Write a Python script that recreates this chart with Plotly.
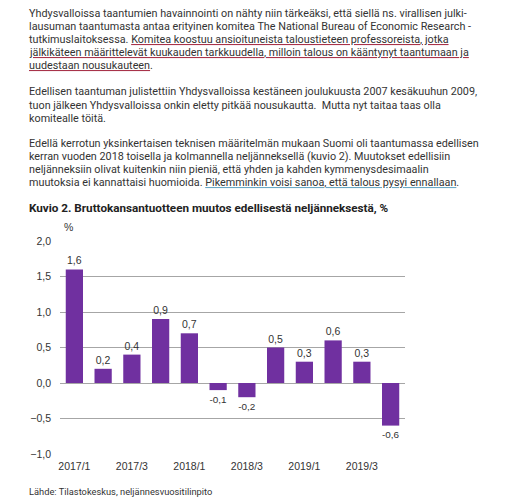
import plotly.graph_objects as go

# ---- data ----
quarters = ["2017/1", "2017/2", "2017/3", "2017/4",
            "2018/1", "2018/2", "2018/3", "2018/4",
            "2019/1", "2019/2", "2019/3", "2019/4"]
gdp_change = [1.6, 0.2, 0.4, 0.9, 0.7, -0.1, -0.2, 0.5, 0.3, 0.6, 0.3, -0.6]
tick_labels = ["2017/1", "2017/3", "2018/1", "2018/3", "2019/1", "2019/3"]
y_ticks = [-1.0, -0.5, 0.0, 0.5, 1.0, 1.5, 2.0]

# text lines: (plain part before underline, underlined part, plain part after)
para1 = [
    ("Yhdysvalloissa taantumien havainnointi on nähty niin tärkeäksi, että siellä ns. virallisen julki-", "", ""),
    ("lausuman taantumasta antaa erityinen komitea The National Bureau of Economic Research -", "", ""),
    ("tutkimuslaitoksessa. ", "Komitea koostuu ansioituneista taloustieteen professoreista, jotka", ""),
    ("", "jälkikäteen määrittelevät kuukauden tarkkuudella, milloin talous on kääntynyt taantumaan ja", ""),
    ("", "uudestaan nousukauteen", "."),
]
para2 = [
    ("Edellisen taantuman julistettiin Yhdysvalloissa kestäneen joulukuusta 2007 kesäkuuhun 2009,", "", ""),
    ("tuon jälkeen Yhdysvalloissa onkin eletty pitkää nousukautta.  Mutta nyt taitaa taas olla", "", ""),
    ("komitealle töitä.", "", ""),
]
para3 = [
    ("Edellä kerrotun yksinkertaisen teknisen määritelmän mukaan Suomi oli taantumassa edellisen", "", ""),
    ("kerran vuoden 2018 toisella ja kolmannella neljänneksellä (kuvio 2). Muutokset edellisiin", "", ""),
    ("neljänneksiin olivat kuitenkin niin pieniä, että yhden ja kahden kymmenysdesimaalin", "", ""),
    ("muutoksia ei kannattaisi huomioida. ", "Pikemminkin voisi sanoa, että talous pysyi ennallaan", "."),
]
title_text = "<b>Kuvio 2. Bruttokansantuotteen muutos edellisestä neljänneksestä, %</b>"
source_text = "Lähde: Tilastokeskus, neljännesvuositilinpito"

W, H = 506, 499
ML, MR, MT, MB = 60, 101, 241, 45
PW, PH = W - ML - MR, H - MT - MB


def px(x):
    return (x - ML) / PW


def py(y):
    return (H - MB - y) / PH


TEXT_COLOR = "#333333"
BODY_FAMILY = "Roboto, Arial, sans-serif"
BODY_SIZE = 10.8

annotations = []


def add_lines(lines, y0, ucolor, step=13.1):
    for i, (a, u, b) in enumerate(lines):
        yy = py(y0 + i * step)
        plain = a + u + b
        if u:
            # underline-only layer: glyphs hidden, decoration painted in ucolor
            hid = "<span style='fill-opacity:0'>%s</span>"
            txt = (hid % a if a else "") + \
                "<span style='text-decoration:underline;fill:%s'>" % ucolor + \
                (hid % u) + "</span>" + (hid % b if b else "")
            annotations.append(dict(
                text=txt,
                x=px(27), y=yy, xref="paper", yref="paper",
                xanchor="left", yanchor="middle", showarrow=False, align="left",
                font=dict(family=BODY_FAMILY, size=BODY_SIZE, color=ucolor),
            ))
        annotations.append(dict(
            text=plain, x=px(27), y=yy, xref="paper", yref="paper",
            xanchor="left", yanchor="middle", showarrow=False, align="left",
            font=dict(family=BODY_FAMILY, size=BODY_SIZE, color=TEXT_COLOR),
        ))


add_lines(para1, 13, "#a8334a")
add_lines(para2, 92, "#a8334a")
add_lines(para3, 143, "#6aa8c4")
annotations.append(dict(
    text=title_text, x=px(27), y=py(208), xref="paper", yref="paper",
    xanchor="left", yanchor="middle", showarrow=False,
    font=dict(family=BODY_FAMILY, size=11.7, color="#222222"),
))
annotations.append(dict(
    text="%", x=px(68), y=py(227), xref="paper", yref="paper",
    xanchor="center", yanchor="middle", showarrow=False,
    font=dict(family="Arial, Liberation Sans, sans-serif", size=10.5, color=TEXT_COLOR),
))
annotations.append(dict(
    text=source_text, x=px(27), y=py(491), xref="paper", yref="paper",
    xanchor="left", yanchor="middle", showarrow=False,
    font=dict(family=BODY_FAMILY, size=9.3, color=TEXT_COLOR),
))

fig = go.Figure(go.Bar(
    x=quarters, y=gdp_change,
    marker=dict(color="#7030a0", line=dict(width=0)),
    texttemplate="%{y:.1f}", textposition="outside", cliponaxis=False,
    textfont=dict(family="Arial, Liberation Sans, sans-serif", size=10.5, color=TEXT_COLOR),
    hoverinfo="skip",
))

fig.update_layout(
    width=W, height=H,
    margin=dict(l=ML, r=MR, t=MT, b=MB, pad=0),
    paper_bgcolor="white", plot_bgcolor="white",
    separators=", ",
    bargap=0.4,
    showlegend=False,
    annotations=annotations,
    xaxis=dict(
        type="category", tickmode="array", tickvals=tick_labels, ticktext=tick_labels,
        showgrid=False, showline=False, ticks="", zeroline=False, ticklabelstandoff=4,
        tickfont=dict(family="Arial, Liberation Sans, sans-serif", size=10.5, color=TEXT_COLOR),
    ),
    yaxis=dict(
        range=[-1.0, 2.0], tickmode="array", tickvals=y_ticks, tickformat=".1f",
        showgrid=True, gridcolor="#a6a6a6", gridwidth=1,
        zeroline=True, zerolinecolor="#a6a6a6", zerolinewidth=1,
        showline=False, ticks="", ticklabelstandoff=8,
        tickfont=dict(family="Arial, Liberation Sans, sans-serif", size=10.5, color=TEXT_COLOR),
    ),
)

fig.write_html("out.html", config={"displayModeBar": False},
               post_script="document.body.style.margin='0';")
